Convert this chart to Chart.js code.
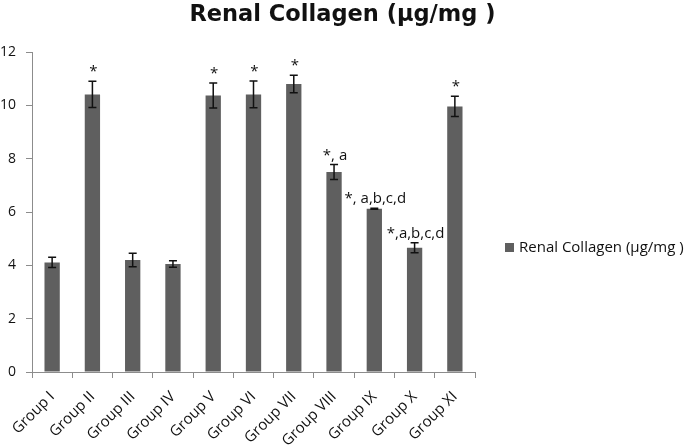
<!DOCTYPE html>
<html>
<head>
<meta charset="utf-8">
<script src="https://cdn.jsdelivr.net/npm/chart.js@4.4.1/dist/chart.umd.min.js"></script>
<style>
  html, body { margin: 0; padding: 0; background: #fff; }
  #wrap { width: 685px; height: 445px; position: relative; }
</style>
</head>
<body>
<div id="wrap"><canvas id="chart"></canvas></div>
<script>
const groups = ['Group I', 'Group II', 'Group III', 'Group IV', 'Group V', 'Group VI',
                'Group VII', 'Group VIII', 'Group IX', 'Group X', 'Group XI'];
const collagen = [4.11, 10.41, 4.2, 4.05, 10.37, 10.41, 10.8, 7.5, 6.12, 4.66, 9.96];
const collagenErr = [0.19, 0.49, 0.25, 0.12, 0.47, 0.5, 0.33, 0.28, 0.02, 0.19, 0.38];
const marks = ['', '*', '', '', '*', '*', '*', '*, a', '*, a,b,c,d', '*,a,b,c,d', '*'];
const seriesName = 'Renal Collagen (µg/mg )';
const chartTitle = 'Renal Collagen (µg/mg )';
const yMax = 12;
const yStep = 2;

const FONT = '"Open Sans", Lato, sans-serif';
const BAR_COLOR = '#5f5f5f';

// error bars + significance letters above each bar
const errorBars = {
    id: 'errorBars',
    afterDatasetsDraw(chart) {
        const ctx = chart.ctx;
        const y = chart.scales.y;
        const meta = chart.getDatasetMeta(0);
        ctx.save();
        ctx.strokeStyle = '#111';
        ctx.lineWidth = 1.5;
        ctx.fillStyle = '#111';
        ctx.font = '15px ' + FONT;
        ctx.textAlign = 'center';
        ctx.textBaseline = 'alphabetic';
        meta.data.forEach((bar, i) => {
            const top = y.getPixelForValue(collagen[i] + collagenErr[i]);
            const bot = y.getPixelForValue(collagen[i] - collagenErr[i]);
            ctx.beginPath();
            ctx.moveTo(bar.x, top);
            ctx.lineTo(bar.x, bot);
            ctx.moveTo(bar.x - 4, top);
            ctx.lineTo(bar.x + 4, top);
            ctx.moveTo(bar.x - 4, bot);
            ctx.lineTo(bar.x + 4, bot);
            ctx.stroke();
            if (marks[i]) {
                ctx.fillText(marks[i], bar.x + 1, top - 5);
            }
        });
        ctx.restore();
    }
};

// title centred on the whole canvas and legend on the right
const headerAndLegend = {
    id: 'headerAndLegend',
    afterDraw(chart) {
        const ctx = chart.ctx;
        ctx.save();
        ctx.fillStyle = '#111';
        ctx.font = 'bold 22.5px "DejaVu Sans", sans-serif';
        ctx.textAlign = 'center';
        ctx.textBaseline = 'alphabetic';
        ctx.fillText(chartTitle, chart.width / 2, 21);

        ctx.fillStyle = BAR_COLOR;
        ctx.fillRect(505, 243, 9, 9);
        ctx.fillStyle = '#111';
        ctx.font = '15px ' + FONT;
        ctx.textAlign = 'left';
        ctx.textBaseline = 'middle';
        ctx.fillText(seriesName, 519, 248);
        ctx.restore();
    }
};

new Chart(document.getElementById('chart'), {
    type: 'bar',
    data: {
        labels: groups,
        datasets: [{
            label: seriesName,
            data: collagen,
            backgroundColor: BAR_COLOR,
            borderWidth: 0,
            categoryPercentage: 1,
            barPercentage: 0.38
        }]
    },
    options: {
        responsive: true,
        maintainAspectRatio: false,
        animation: false,
        layout: {
            autoPadding: false,
            padding: { left: 0, right: 210, top: 52, bottom: 0 }
        },
        plugins: {
            legend: { display: false },
            tooltip: { enabled: false },
            title: { display: false }
        },
        scales: {
            x: {
                afterFit(scale) { scale.height = 73; },
                grid: {
                    display: true,
                    drawOnChartArea: false,
                    drawTicks: true,
                    tickLength: 6,
                    color: '#8c8c8c',
                    offset: true
                },
                border: { display: true, color: '#8c8c8c', width: 1 },
                ticks: {
                    color: '#111',
                    font: { family: FONT, size: 15 },
                    minRotation: 45,
                    maxRotation: 45,
                    autoSkip: false,
                    padding: 10
                }
            },
            y: {
                min: 0,
                max: yMax,
                afterFit(scale) { scale.width = 32; },
                grid: {
                    display: true,
                    drawOnChartArea: false,
                    drawTicks: true,
                    tickLength: 6,
                    color: '#8c8c8c'
                },
                border: { display: true, color: '#8c8c8c', width: 1 },
                ticks: {
                    stepSize: yStep,
                    color: '#111',
                    font: { family: FONT, size: 14 },
                    padding: 10
                }
            }
        }
    },
    plugins: [errorBars, headerAndLegend]
});
</script>
</body>
</html>
